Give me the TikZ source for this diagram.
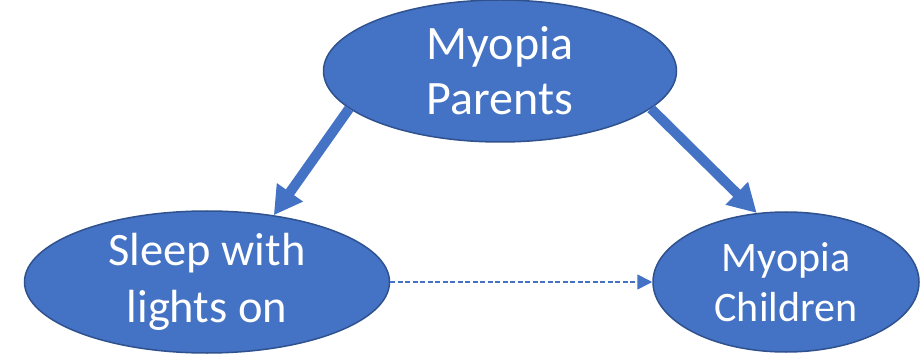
\documentclass[tikz,border=0pt]{standalone}
\usepackage{fontspec}
\setmainfont{Carlito}
\usetikzlibrary{shapes.geometric,arrows.meta}
\definecolor{nodefill}{HTML}{4472C4}
\definecolor{nodeline}{HTML}{2F528F}
\tikzset{
  bubble/.style={ellipse, draw=nodeline, line width=1.5pt, fill=nodefill,
    text=white, inner sep=0pt, align=center},
  bigarrow/.style={draw=nodefill, line width=10pt,
    -{Triangle[length=28pt,width=30pt]}},
  thinarrow/.style={draw=nodefill, line width=1.6pt, dash pattern=on 5pt off 2.5pt,
    -{Triangle[length=15pt,width=15pt]}}
}
\begin{document}
\begin{tikzpicture}[x=1pt,y=-1pt]
  \useasboundingbox (0,0) rectangle (920,355);
  \node[bubble, minimum width=353pt, minimum height=142pt,
        font=\fontsize{48}{55}\selectfont] (parents) at (500,71) {Myopia\\Parents};
  \node[bubble, minimum width=365pt, minimum height=142pt,
        font=\fontsize{46.5}{57}\selectfont] (sleep) at (207,282) {Sleep with\\lights on};
  \node[bubble, minimum width=266pt, minimum height=140pt,
        font=\fontsize{42}{50}\selectfont] (children) at (786,282) {Myopia\\Children};
  \draw[bigarrow] (parents.194) -- (sleep.45);
  \draw[bigarrow] (parents.346) -- (children.113);
  \draw[thinarrow] (sleep.east) -- (children.west);
\end{tikzpicture}
\end{document}
